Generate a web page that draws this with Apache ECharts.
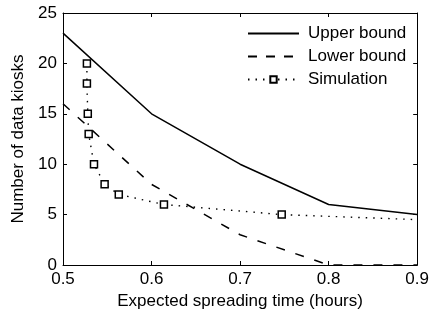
<!DOCTYPE html>
<html><head><meta charset="utf-8">
<script src="https://cdn.jsdelivr.net/npm/echarts@6/dist/echarts.min.js"></script>
<style>html,body{margin:0;padding:0;background:#fff}#c{width:432px;height:316px}</style>
</head><body><div id="c"></div>
<script>
var boundX = [0.5, 0.6, 0.7, 0.8, 0.9];
var upperBound = [23, 15, 10, 6, 5];
var lowerBound = [16, 8, 3, 0, 0];
var simX = [0.527, 0.527, 0.528, 0.529, 0.535, 0.547, 0.563, 0.614, 0.747, 0.9];
var simY = [20, 18, 15, 13, 10, 8, 7, 6, 5, 4.5];
var xTicks = [0.5, 0.6, 0.7, 0.8, 0.9];
var yTicks = [0, 5, 10, 15, 20, 25];

var font = 'Liberation Sans, Arial, sans-serif';
var fs = 17;
function pairs(xs, ys){ return xs.map(function(x,i){ return [x, ys[i]]; }); }
var simData = pairs(simX, simY).map(function(p, i){
  return i === simX.length - 1 ? {value: p, symbol: 'none'} : p;
});

var chart = echarts.init(document.getElementById('c'), null, {renderer: 'canvas'});
var axCommon = {
  axisLine: {show: true, onZero: false, lineStyle: {color: '#000', width: 1}},
  axisTick: {show: true, inside: true, length: 4, lineStyle: {color: '#000'}},
  splitLine: {show: false}
};
chart.setOption({
  animation: false,
  backgroundColor: '#fff',
  textStyle: {fontFamily: font},
  grid: {left: 63, top: 13, right: 12, bottom: 51},
  legend: {
    orient: 'vertical', left: 242, top: 20, itemWidth: 51, itemHeight: 8, itemGap: 6,
    textStyle: {fontSize: fs, color: '#000', fontFamily: font, padding: [0, 0, 0, 4]},
    data: [
      {name: 'Upper bound', itemStyle: {opacity: 0}},
      {name: 'Lower bound', itemStyle: {opacity: 0}, lineStyle: {type: [9, 9]}},
      {name: 'Simulation'}
    ]
  },
  xAxis: [
    Object.assign({
      type: 'value', min: xTicks[0], max: xTicks[xTicks.length-1], interval: 0.1,
      name: 'Expected spreading time (hours)', nameLocation: 'middle', nameGap: 28,
      nameTextStyle: {fontSize: fs, color: '#000', fontFamily: font},
      axisLabel: {fontSize: fs, color: '#000', margin: 6, fontFamily: font,
        formatter: function(v){ return v.toFixed(1); }}
    }, axCommon),
    Object.assign({
      type: 'value', position: 'top', min: xTicks[0], max: xTicks[xTicks.length-1], interval: 0.1,
      axisLabel: {show: false}
    }, axCommon)
  ],
  yAxis: [
    Object.assign({
      type: 'value', min: yTicks[0], max: yTicks[yTicks.length-1], interval: 5,
      name: 'Number of data kiosks', nameLocation: 'middle', nameGap: 35,
      nameTextStyle: {fontSize: fs, color: '#000', fontFamily: font},
      axisLabel: {fontSize: fs, color: '#000', margin: 6, fontFamily: font}
    }, axCommon),
    Object.assign({
      type: 'value', position: 'right', min: yTicks[0], max: yTicks[yTicks.length-1], interval: 5,
      axisLabel: {show: false}
    }, axCommon)
  ],
  series: [
    {name: 'Upper bound', type: 'line', data: pairs(boundX, upperBound), showSymbol: false, symbol: 'none',
      lineStyle: {color: '#000', width: 1.5, type: 'solid'}, itemStyle: {color: '#000'}},
    {name: 'Lower bound', type: 'line', data: pairs(boundX, lowerBound), showSymbol: false, symbol: 'none',
      lineStyle: {color: '#000', width: 1.5, type: [9, 11]}, itemStyle: {color: '#000'}},
    {name: 'Simulation', type: 'line', data: simData, symbol: 'rect', symbolSize: 7, showSymbol: true,
      lineStyle: {color: '#000', width: 1.4, type: [1.5, 6]},
      itemStyle: {color: '#fff', borderColor: '#000', borderWidth: 1.5}}
  ]
});
</script></body></html>
